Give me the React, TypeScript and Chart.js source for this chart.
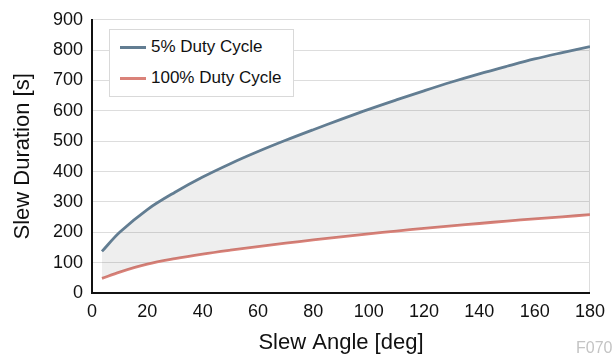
import React, { useEffect, useRef } from "react";
import { Chart, registerables } from "chart.js";

Chart.register(...registerables);

const angles = [3.6, 10, 20, 30, 40, 50, 60, 70, 80, 90, 100, 110, 120, 130, 140, 150, 160, 170, 180];
const duty5 = [137, 200, 275, 332, 382, 426, 466, 503, 538, 572, 605, 636, 666, 695, 722, 747, 771, 792, 812];
const duty100 = [48, 69, 95, 113, 128, 141, 153, 164, 175, 185, 195, 204, 213, 221, 229, 237, 244, 251, 258];
const seriesLabels = ["5% Duty Cycle", "100% Duty Cycle"];
const xTicks = [0, 20, 40, 60, 80, 100, 120, 140, 160, 180];
const yTicks = [0, 100, 200, 300, 400, 500, 600, 700, 800, 900];
const xTitle = "Slew Angle [deg]";
const yTitle = "Slew Duration [s]";
const watermark = "F070";

const BLUE = "#627D92";
const RED = "#DA8279";
const FONT = "'Liberation Sans', Arial, sans-serif";

export default function App() {
  const ref = useRef<HTMLCanvasElement | null>(null);

  useEffect(() => {
    if (!ref.current) return;
    const chart = new Chart(ref.current, {
      type: "line",
      data: {
        datasets: [
          {
            label: seriesLabels[0],
            data: angles.map((a, i) => ({ x: a, y: duty5[i] })),
            borderColor: BLUE,
            borderWidth: 2.8,
            pointRadius: 0,
            tension: 0.35,
            fill: "+1",
            backgroundColor: "rgba(0,0,0,0.065)",
          },
          {
            label: seriesLabels[1],
            data: angles.map((a, i) => ({ x: a, y: duty100[i] })),
            borderColor: RED,
            borderWidth: 2.8,
            pointRadius: 0,
            tension: 0.35,
            fill: false,
          },
        ],
      },
      options: {
        animation: false,
        responsive: false,
        maintainAspectRatio: false,
        layout: { padding: { top: 13, right: 20, left: 0, bottom: 0 } },
        plugins: { legend: { display: false }, tooltip: { enabled: false } },
        scales: {
          x: {
            type: "linear",
            min: 0,
            max: 180,
            afterBuildTicks: (s: any) => {
              s.ticks = xTicks.map((v) => ({ value: v }));
            },
            afterFit: (s: any) => {
              s.height = 65;
            },
            grid: {
              drawTicks: false,
              color: (c: any) => (c.tick && c.tick.value === 180 ? "#DDDDDD" : "rgba(0,0,0,0)"),
              lineWidth: 1,
            },
            border: { color: "#111", width: 2 },
            ticks: {
              padding: 8,
              color: "#111",
              font: { family: FONT, size: 18 },
              maxRotation: 0,
              autoSkip: false,
            },
            title: {
              display: true,
              text: xTitle,
              color: "#111",
              font: { family: FONT, size: 22 },
              padding: { top: 0, bottom: 2 },
            },
          },
          y: {
            type: "linear",
            min: 0,
            max: 900,
            afterBuildTicks: (s: any) => {
              s.ticks = yTicks.map((v) => ({ value: v }));
            },
            afterFit: (s: any) => {
              s.width = 92;
            },
            grid: { drawTicks: false, color: "#DDDDDD", lineWidth: 1 },
            border: { color: "#111", width: 2 },
            ticks: {
              padding: 9,
              color: "#111",
              font: { family: FONT, size: 18 },
              autoSkip: false,
            },
            title: {
              display: true,
              text: yTitle,
              color: "#111",
              font: { family: FONT, size: 22 },
              padding: { top: 10, bottom: 0 },
            },
          },
        },
      },
    } as any);
    return () => chart.destroy();
  }, []);

  return (
    <div style={{ position: "absolute", left: 0, top: 0, width: 613, height: 358, background: "#fff" }}>
      <canvas ref={ref} width={613} height={358} style={{ display: "block", width: 613, height: 358 }} />
      <div
        style={{
          position: "absolute",
          left: 109,
          top: 29,
          width: 185,
          height: 68,
          boxSizing: "border-box",
          border: "1px solid #D9D9D9",
          background: "#fff",
          fontFamily: FONT,
          fontSize: 17,
          color: "#111",
        }}
      >
        {seriesLabels.map((lab, i) => (
          <div key={lab}>
            <div
              style={{
                position: "absolute",
                left: 10,
                top: i === 0 ? 16 : 47,
                width: 26,
                height: 3,
                background: i === 0 ? BLUE : RED,
              }}
            />
            <div
              style={{
                position: "absolute",
                left: 41,
                top: i === 0 ? 7 : 38,
                lineHeight: "20px",
                whiteSpace: "nowrap",
              }}
            >
              {lab}
            </div>
          </div>
        ))}
      </div>
      <div
        style={{
          position: "absolute",
          left: 576,
          top: 339,
          fontFamily: FONT,
          fontSize: 16,
          lineHeight: "18px",
          color: "#C4C4C4",
        }}
      >
        {watermark}
      </div>
    </div>
  );
}
